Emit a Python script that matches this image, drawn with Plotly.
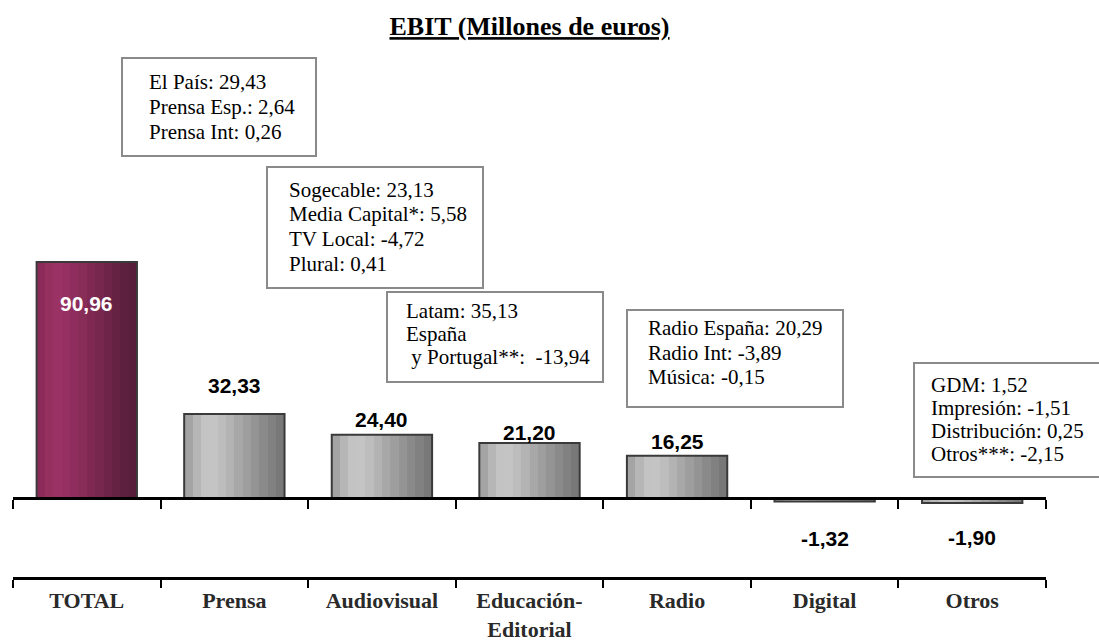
import plotly.graph_objects as go

# ---------------- data ----------------
categories = ["TOTAL", "Prensa", "Audiovisual", "Educación-<br>Editorial", "Radio", "Digital", "Otros"]
ebit = [90.96, 32.33, 24.40, 21.20, 16.25, -1.32, -1.90]
value_labels = ["90,96", "32,33", "24,40", "21,20", "16,25", "-1,32", "-1,90"]

box_prensa = ["El País: 29,43", "Prensa Esp.: 2,64", "Prensa Int: 0,26"]
box_audiovisual = ["Sogecable: 23,13", "Media Capital*: 5,58", "TV Local: -4,72", "Plural: 0,41"]
box_educacion = ["Latam: 35,13", "España", "\u00a0y Portugal**:\u00a0\u00a0-13,94"]
box_radio = ["Radio España: 20,29", "Radio Int: -3,89", "Música: -0,15"]
box_otros = ["GDM: 1,52", "Impresión: -1,51", "Distribución: 0,25", "Otros***: -2,15"]

title_text = "EBIT (Millones de euros)"

# ---------------- layout geometry ----------------
W, H = 1099, 644
ML, MR, MT, MB = 13, 53, 40, 67
PW, PH = W - ML - MR, H - MT - MB
zero_px = 498                      # pixel row of the zero line
px_per_unit = 236 / 90.96
y_top = (zero_px - MT) / px_per_unit
y_bot = -(H - MB - zero_px) / px_per_unit


def px2paper(x, y):
    return (x - ML) / PW, (H - MB - y) / PH


# gradients (left -> right)
grad_total = ["#8c2a5a", "#96305f", "#9a3263", "#963062", "#8f2e5e", "#882c58",
              "#7f2952", "#77274d", "#6e2448", "#662243", "#5e203f", "#571d3a"]
grad_gray = ["#a4a4a4", "#b6b6b6", "#c3c3c3", "#c4c4c4", "#bdbdbd", "#b3b3b3",
             "#a8a8a8", "#9e9e9e", "#949494", "#8a8a8a", "#818181", "#787878"]

bar_w = 0.68
n = len(grad_gray)
sw = bar_w / n

fig = go.Figure()
for i in range(n):
    cols = [grad_total[i] if c == "TOTAL" else grad_gray[i] for c in categories]
    fig.add_trace(go.Bar(
        x=categories, y=ebit, width=sw * 1.06, offset=-bar_w / 2 + i * sw,
        marker=dict(color=cols, line=dict(width=0)), hoverinfo="skip", showlegend=False,
    ))
# outline
fig.add_trace(go.Bar(
    x=categories, y=ebit, width=bar_w, offset=-bar_w / 2,
    marker=dict(color="rgba(0,0,0,0)", line=dict(color="#3a3a3a", width=2)),
    hoverinfo="skip", showlegend=False,
))
# invisible trace to carry the zero-line axis
fig.add_trace(go.Scatter(x=categories, y=[0] * len(categories), xaxis="x2", yaxis="y",
                         mode="markers", marker=dict(opacity=0), hoverinfo="skip", showlegend=False))

# value labels
label_dy = [-41, 29, 15, 11, 14, -37, -35]
for c, v, t, dy in zip(categories, ebit, value_labels, label_dy):
    fig.add_annotation(
        x=c, y=v, xref="x", yref="y", text=f"<b>{t}</b>", showarrow=False,
        yshift=dy, yanchor="middle",
        font=dict(family="Liberation Sans, Arial", size=21,
                  color="white" if c == "TOTAL" else "black"),
    )

# annotation boxes: (lines, rect x0, y0, x1, y1, text left, first line centre, line step)
boxes = [
    (box_prensa, 122, 58, 316, 156, 147, 82, 25),
    (box_audiovisual, 267, 167, 483, 288, 287, 190, 24.5),
    (box_educacion, 387, 292, 603, 382, 404, 311, 23),
    (box_radio, 627, 310, 843, 407, 646, 328, 24.5),
    (box_otros, 914, 363, 1115, 477, 929, 385, 23),
]
for lines, x0, y0, x1, y1, tx, ly, step in boxes:
    px0, py0 = px2paper(x0, y1)
    px1, py1 = px2paper(x1, y0)
    fig.add_shape(type="rect", xref="paper", yref="paper", x0=px0, y0=py0, x1=px1, y1=py1,
                  line=dict(color="#8a8a8a", width=2), fillcolor="white", layer="above")
    for k, line in enumerate(lines):
        ax, ay = px2paper(tx, ly + k * step)
        fig.add_annotation(x=ax, y=ay, xref="paper", yref="paper", xanchor="left", yanchor="middle",
                           align="left", showarrow=False, text=line,
                           font=dict(family="Liberation Serif, Times New Roman", size=21, color="black"))

fig.update_layout(
    width=W, height=H,
    margin=dict(l=ML, r=MR, t=MT, b=MB, pad=0),
    paper_bgcolor="white", plot_bgcolor="white",
    barmode="overlay", bargap=0,
    title=dict(text=f"<b><span style='text-decoration:underline'>{title_text}</span></b>",
               x=0.5, xref="paper", xanchor="center", y=1 - 26 / H, yanchor="middle",
               font=dict(family="Liberation Serif, Times New Roman", size=26, color="black")),
    xaxis=dict(type="category", categoryarray=categories, range=[-0.5, 6.5],
               showline=True, linecolor="black", linewidth=3, mirror=False,
               ticks="outside", ticklen=8, tickwidth=2, tickcolor="black", tickson="boundaries",
               ticklabelstandoff=2,
               showgrid=False, zeroline=False, automargin=False,
               tickfont=dict(family="Liberation Serif, Times New Roman", size=22, color="#2a2a2a",
                             weight="bold"),
               fixedrange=True),
    xaxis2=dict(type="category", categoryarray=categories, range=[-0.5, 6.5],
                overlaying="x", anchor="free", position=(H - MB - zero_px) / PH, side="bottom",
                showline=True, linecolor="black", linewidth=3, automargin=False,
                ticks="outside", ticklen=9, tickwidth=2, tickcolor="black", tickson="boundaries",
                showticklabels=False, showgrid=False, zeroline=False),
    yaxis=dict(range=[y_bot, y_top], visible=False, showgrid=False, zeroline=False),
)

fig.write_html("out.html", config={"displayModeBar": False, "staticPlot": True},
               post_script="document.body.style.margin='0px';document.body.style.overflow='hidden';")
